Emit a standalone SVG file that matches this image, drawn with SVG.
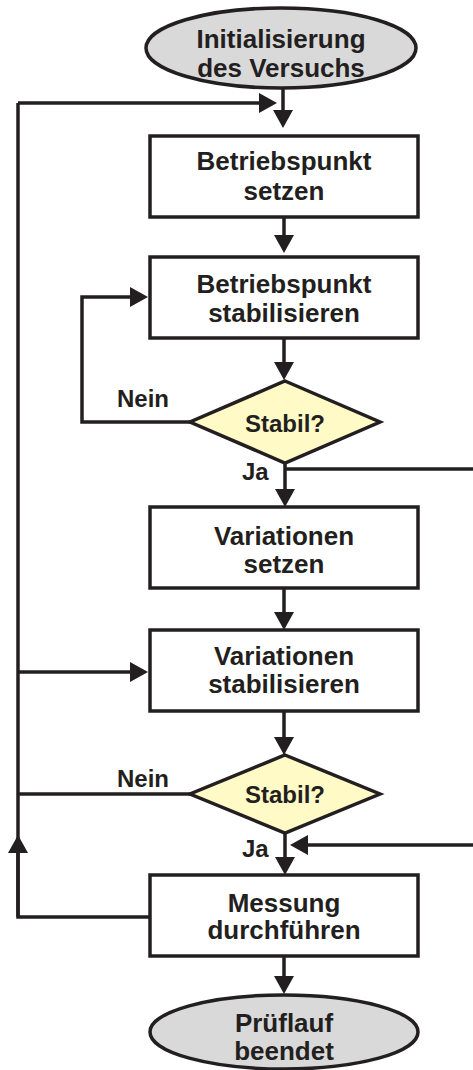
<svg xmlns="http://www.w3.org/2000/svg" width="473" height="1070" viewBox="0 0 473 1070">
<style>
.n{fill:#fff;stroke:#231f20;stroke-width:3.5}
.t{fill:#d9d9d9;stroke:#231f20;stroke-width:3.5}
.d{fill:#fffac6;stroke:#231f20;stroke-width:3.5}
.c{fill:none;stroke:#231f20;stroke-width:3.5;stroke-linejoin:miter}
.a{marker-end:url(#ah)}
text{font-family:"Liberation Sans",Arial,sans-serif;font-weight:bold;font-size:26px;fill:#231f20}
.m{text-anchor:middle}
.s{font-size:24px}
.l{font-size:24px}
</style>
<defs>
<marker id="ah" markerUnits="userSpaceOnUse" markerWidth="20" markerHeight="20" refX="8" refY="10" orient="auto">
<path d="M0,0 L18,10 L0,20 z" fill="#231f20"/>
</marker>
</defs>
<g id="connectors">
<path class="c a" d="M283,88 V118"/>
<path class="c" d="M150,917 H18 V103"/>
<path class="c a" d="M18,917 V845"/>
<path class="c a" d="M18,103 H267"/>
<path class="c a" d="M284,217 V243"/>
<path class="c a" d="M284,338 V370"/>
<path class="c a" d="M190,422 H82 V297 H138"/>
<path class="c a" d="M285,463 V497"/>
<path class="c" d="M285,469 H473"/>
<path class="c a" d="M284,588 V620"/>
<path class="c a" d="M284,711 V745"/>
<path class="c" d="M190,794 H18"/>
<path class="c a" d="M18,672 H138"/>
<path class="c a" d="M285,833 V865"/>
<path class="c a" d="M473,845 H300"/>
<path class="c a" d="M284,956 V984"/>
</g>
<g id="start">
<ellipse class="t" cx="281" cy="48" rx="135" ry="40"/>
<text class="m" x="281" y="48">Initialisierung</text>
<text class="m" x="281" y="77">des Versuchs</text>
</g>
<g id="box1">
<rect class="n" x="150" y="136" width="268" height="81"/>
<text class="m" x="284" y="170">Betriebspunkt</text>
<text class="m" x="284" y="200">setzen</text>
</g>
<g id="box2">
<rect class="n" x="150" y="257" width="268" height="81"/>
<text class="m" x="284" y="293">Betriebspunkt</text>
<text class="m" x="284" y="322">stabilisieren</text>
</g>
<g id="dec1">
<polygon class="d" points="285,381 380,422 285,463 190,422"/>
<text class="m s" x="285" y="432">Stabil?</text>
<text class="l" x="117" y="407">Nein</text>
<text class="l" x="242" y="480">Ja</text>
</g>
<g id="box3">
<rect class="n" x="150" y="507" width="268" height="81"/>
<text class="m" x="284" y="545">Variationen</text>
<text class="m" x="284" y="573">setzen</text>
</g>
<g id="box4">
<rect class="n" x="150" y="630" width="268" height="81"/>
<text class="m" x="284" y="665">Variationen</text>
<text class="m" x="284" y="693">stabilisieren</text>
</g>
<g id="dec2">
<polygon class="d" points="285,755 380,794 285,833 190,794"/>
<text class="m s" x="285" y="803">Stabil?</text>
<text class="l" x="117" y="787">Nein</text>
<text class="l" x="242" y="857">Ja</text>
</g>
<g id="box5">
<rect class="n" x="150" y="875" width="268" height="81"/>
<text class="m" x="284" y="912">Messung</text>
<text class="m" x="284" y="939">durchführen</text>
</g>
<g id="end">
<ellipse class="t" cx="284" cy="1032" rx="134" ry="37"/>
<text class="m" x="284" y="1032">Prüflauf</text>
<text class="m" x="284" y="1060">beendet</text>
</g>
</svg>
